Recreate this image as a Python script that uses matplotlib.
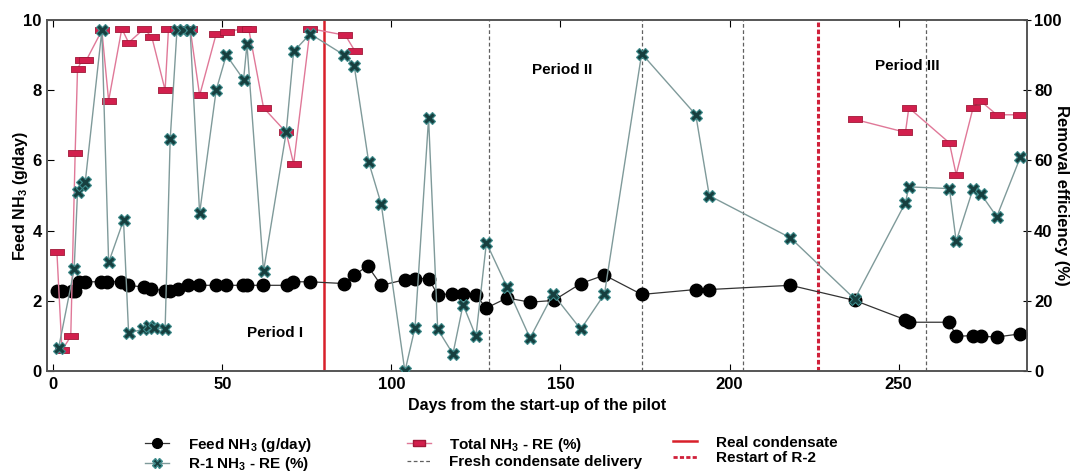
import numpy as np
import matplotlib
matplotlib.use("Agg")
import matplotlib.pyplot as plt

plt.rcParams['font.family'] = ['Liberation Sans', 'DejaVu Sans']
plt.rcParams['font.weight'] = 'bold'
plt.rcParams['axes.labelweight'] = 'bold'

# Feed NH3 (g/day)
feed_days = [1, 2.5, 5.5, 6.5, 7.5, 9.5, 14, 16, 20, 22, 27, 29, 33, 34.6, 37, 40, 43,
             48, 51, 56, 57.3, 62, 69, 71, 76, 86, 89, 93, 97, 104, 107, 111, 113.7,
             118, 121.2, 125, 128, 134.2, 141, 148, 156, 163, 174, 190, 194, 218,
             237, 252, 253, 265, 267, 272, 274.3, 279, 286]
feed_vals = [2.3, 2.3, 2.3, 2.3, 2.55, 2.55, 2.55, 2.55, 2.55, 2.45, 2.4, 2.35, 2.3, 2.3,
             2.35, 2.45, 2.45, 2.45, 2.45, 2.45, 2.45, 2.45, 2.45, 2.55, 2.55, 2.5, 2.74,
             3.0, 2.45, 2.61, 2.64, 2.64, 2.18, 2.21, 2.21, 2.18, 1.8, 2.09, 1.97, 2.02,
             2.5, 2.74, 2.19, 2.33, 2.33, 2.45, 2.02, 1.47, 1.4, 1.4, 1.0, 1.02, 1.0,
             0.98, 1.07]

# R-1 NH3 removal efficiency (%)
r1_days = [1.6, 6.2, 7.2, 8.5, 9.5, 14.4, 16.4, 20.8, 22.3, 26.7, 28.2, 29.7, 33.1, 34.6,
           36.6, 38.5, 40.5, 43.3, 48.2, 51.2, 56.3, 57.3, 62.2, 68.9, 71.1, 76, 86, 89,
           93.3, 97, 104, 107, 111, 113.7, 118.2, 121.2, 125, 128.1, 134.2, 141, 147.8,
           156, 163, 174, 190, 194, 218, 237, 252, 253, 265, 267, 272, 274.3, 279, 286]
r1_vals = [6.6, 29, 51, 53, 54, 97, 31, 43, 11, 12, 13, 12.5, 12, 66, 97, 97, 97, 45, 80,
           90, 83, 93, 28.5, 68, 91, 96, 90, 87, 59.5, 47.6, 0, 12.5, 72, 12, 5, 19, 10,
           36.6, 24, 9.5, 22, 12, 22, 90.4, 73, 50, 38, 20.6, 48, 52.5, 52, 37, 52, 50.5,
           44, 61]

# Total NH3 removal efficiency (%) - no data between day 89 and day 237
total_days = [1.1, 2.6, 5.2, 6.5, 7.2, 8.5, 9.8, 14.4, 16.4, 20.3, 22.3, 26.9, 29.2, 33.1,
              34.1, 36.6, 38.5, 40.5, 43.3, 48.2, 51.4, 56.3, 57.8, 62.2, 68.9, 71.1, 76,
              86.4, 89.3, np.nan, 237, 252, 253, 265, 267, 272, 274.1, 279, 286]
total_vals = [34, 6, 10, 62, 86, 88.5, 88.5, 97, 77, 97.5, 93.5, 97.5, 95, 80, 97.5, 97.5,
              97.5, 97.5, 78.5, 96, 96.6, 97.5, 97.5, 75, 68, 59, 97.5, 95.6, 91, np.nan,
              71.7, 68, 75, 65, 56, 75, 77, 73, 73]

real_condensate_day = 80
fresh_delivery_days = [129, 174, 204, 258]
restart_r2_day = 226

fig = plt.figure(figsize=(10.7, 4.72), dpi=100)
ax = fig.add_axes([0.044, 0.213, 0.916, 0.745])
ax2 = ax.twinx()

ax.axvline(real_condensate_day, color='#d8202a', lw=1.8, zorder=1)
for d in fresh_delivery_days:
    ax.axvline(d, color='#606060', lw=0.9, ls=(0, (3, 2)), zorder=1)
ax.axvline(restart_r2_day, color='#d0203a', lw=2.2, ls=(0, (1.5, 0.8)), zorder=1)

ax.plot(feed_days, feed_vals, color='#333333', lw=0.9, marker='o', ms=9,
        mfc='black', mec='black', zorder=3)

rect = [(-1, -0.42), (1, -0.42), (1, 0.42), (-1, 0.42), (-1, -0.42)]
ax2.plot(total_days, total_vals, color='#e07898', lw=1.0, marker=rect, ms=10,
         mfc='#d21f4d', mec='#a01838', mew=0.6, zorder=2)
ax2.plot(r1_days, r1_vals, color='#7f9a9a', lw=1.0, marker='X', ms=8.5,
         mfc='#173f3f', mec='#3e8c8c', mew=0.8, zorder=3)

ax.set_xlim(-1.8, 288)
ax.set_ylim(0, 10)
ax2.set_ylim(0, 100)
ax.set_xticks([0, 50, 100, 150, 200, 250])
ax.set_yticks([0, 2, 4, 6, 8, 10])
ax2.set_yticks([0, 20, 40, 60, 80, 100])
ax.tick_params(direction='in', top=True, labelsize=12, length=5, pad=4)
ax2.tick_params(direction='inout', labelsize=12, length=6, pad=2)
for a in (ax, ax2):
    for s in a.spines.values():
        s.set_color('#555555')
        s.set_linewidth(1.2)

ax.set_xlabel('Days from the start-up of the pilot', fontsize=11.5, labelpad=4.5)
ax.set_ylabel('Feed NH$_\\mathregular{3}$ (g/day)', fontsize=11.5, va='center')
ax.yaxis.set_label_coords(-0.0276, 0.5)
ax2.set_ylabel('Removal efficiency (%)', fontsize=12, rotation=270, va='center')
ax2.yaxis.set_label_coords(1.0345, 0.5)

ax.text(65.5, 1.1, 'Period I', fontsize=11, ha='center', va='center')
ax.text(150.5, 8.56, 'Period II', fontsize=11, ha='center', va='center')
ax.text(252.5, 8.7, 'Period III', fontsize=11, ha='center', va='center')

h_feed, = ax.plot([], [], color='#333333', lw=0.9, marker='o', ms=7, mfc='black', mec='black')
h_r1, = ax.plot([], [], color='#7f9a9a', lw=1.0, marker='X', ms=7, mfc='#173f3f', mec='#3e8c8c')
h_tot, = ax.plot([], [], color='#e07898', lw=1.0, marker=rect, ms=9, mfc='#d21f4d', mec='#a01838')
h_fresh, = ax.plot([], [], color='#606060', lw=0.9, ls=(0, (3, 2)))
h_real, = ax.plot([], [], color='#d8202a', lw=1.8)
h_rest, = ax.plot([], [], color='#d0203a', lw=2.0, ls=(0, (1.5, 0.8)))

legend_cols = [
    ([h_feed, h_r1], ['Feed NH$_\\mathregular{3}$ (g/day)', 'R-1 NH$_\\mathregular{3}$ - RE (%)'], 0.1355),
    ([h_tot, h_fresh], ['Total NH$_\\mathregular{3}$ - RE (%)', 'Fresh condensate delivery'], 0.380),
    ([h_real, h_rest], ['Real condensate', 'Restart of R-2'], 0.629),
]
for handles, labels, x0 in legend_cols:
    fig.legend(handles, labels, loc='upper left', bbox_to_anchor=(x0, 0.077),
               frameon=False, fontsize=11, handlelength=1.6, labelspacing=0.1,
               borderaxespad=0, borderpad=0, handletextpad=1.2)

fig.savefig('out.png', dpi=100)
plt.close(fig)
